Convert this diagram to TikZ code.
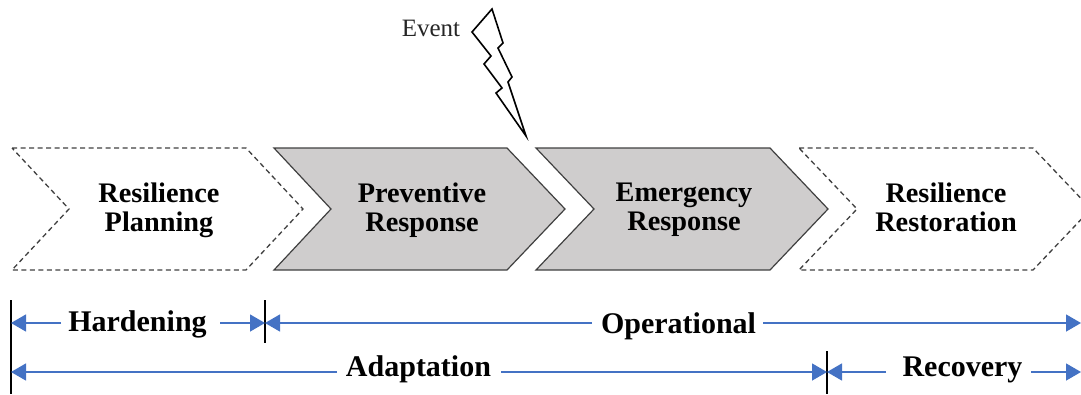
\documentclass[tikz,border=0pt]{standalone}
\usepackage{fontspec}
\setmainfont{Liberation Serif}
\usetikzlibrary{arrows.meta}
\definecolor{arrowblue}{HTML}{4472C4}
\definecolor{chevgrey}{HTML}{CFCDCD}
\definecolor{chevline}{HTML}{404040}
\tikzset{
  chevplain/.style={draw=chevline,line width=1.3pt,dash pattern=on 5pt off 3.5pt},
  chevfill/.style={draw=chevline,line width=1.2pt,fill=chevgrey},
  chevtext/.style={font=\fontsize{28.3}{29}\selectfont\bfseries,align=center,inner sep=0pt,text=black},
  spanlabel/.style={font=\fontsize{30}{32}\selectfont\bfseries,inner sep=0pt,anchor=base,text=black},
  bar/.style={draw=black,line width=1.8pt},
  spanarrow/.style={draw=arrowblue,line width=1.4pt,-{Triangle[length=15pt,width=17pt,fill=arrowblue]}},
  bolt/.style={draw=black,line width=1.6pt,fill=white,miter limit=10}
}
\begin{document}
\begin{tikzpicture}[x=1pt,y=-1pt]
\useasboundingbox (0,0) rectangle (1081,394);
\begin{scope}
\clip (0,0) rectangle (1081,394);
\draw[chevplain] (12,148) -- (246,148) -- (303,209) -- (246,270) -- (12,270) -- (69,209) -- cycle;
\draw[chevfill] (274,148) -- (507,148) -- (565,209) -- (507,270) -- (274,270) -- (331,209) -- cycle;
\draw[chevfill] (536,148) -- (770,148) -- (828,209) -- (770,270) -- (536,270) -- (594,209) -- cycle;
\draw[chevplain] (799,148) -- (1033,148) -- (1091,209) -- (1033,270) -- (799,270) -- (857,209) -- cycle;
\end{scope}
\node[chevtext] (planning) at (159,210) {Resilience\\Planning};
\node[chevtext] (preventive) at (422,210) {Preventive\\Response};
\node[chevtext] (emergency) at (684,210) {Emergency\\Response};
\node[chevtext] (restoration) at (946,210) {Resilience\\Restoration\vphantom{g}};
\draw[bolt] (492,9) -- (472,32) -- (491,56) -- (484,64) -- (502,88) -- (496,93) -- (526,136) -- (508,82) -- (512,77) -- (498,48) -- (503,43) -- cycle;
\node[font=\fontsize{25}{27}\selectfont,inner sep=0pt,text=black!85] (event) at (431,28) {Event};
% bars
\coordinate (b1t) at (11,300); \coordinate (b1b) at (11,394);
\coordinate (b2t) at (265,300); \coordinate (b2b) at (265,343);
\coordinate (b3t) at (827,351); \coordinate (b3b) at (827,394);
\draw[bar] (b1t) -- (b1b);
\draw[bar] (b2t) -- (b2b);
\draw[bar] (b3t) -- (b3b);
% ends
\coordinate (h1) at (11,323); \coordinate (h2) at (265,323);
\coordinate (o2) at (1081,323);
\coordinate (a1) at (11,372); \coordinate (a2) at (827,372);
\coordinate (r2) at (1081,372);
% labels
\node[spanlabel] (hardening) at (137.5,331) {Hardening};
\node[spanlabel] (operational) at (678.5,333) {Operational};
\node[spanlabel] (adaptation) at (418.5,376) {Adaptation};
\node[spanlabel] (recovery) at (962.5,376) {Recovery};
% arrows
\draw[spanarrow] (61,323) -- (h1);
\draw[spanarrow] (220,323) -- (h2);
\draw[spanarrow] (592,323) -- (h2);
\draw[spanarrow] (763,323) -- (o2);
\draw[spanarrow] (337,372) -- (a1);
\draw[spanarrow] (501,372) -- (a2);
\draw[spanarrow] (886,372) -- (a2);
\draw[spanarrow] (1031,372) -- (r2);
\end{tikzpicture}
\end{document}
